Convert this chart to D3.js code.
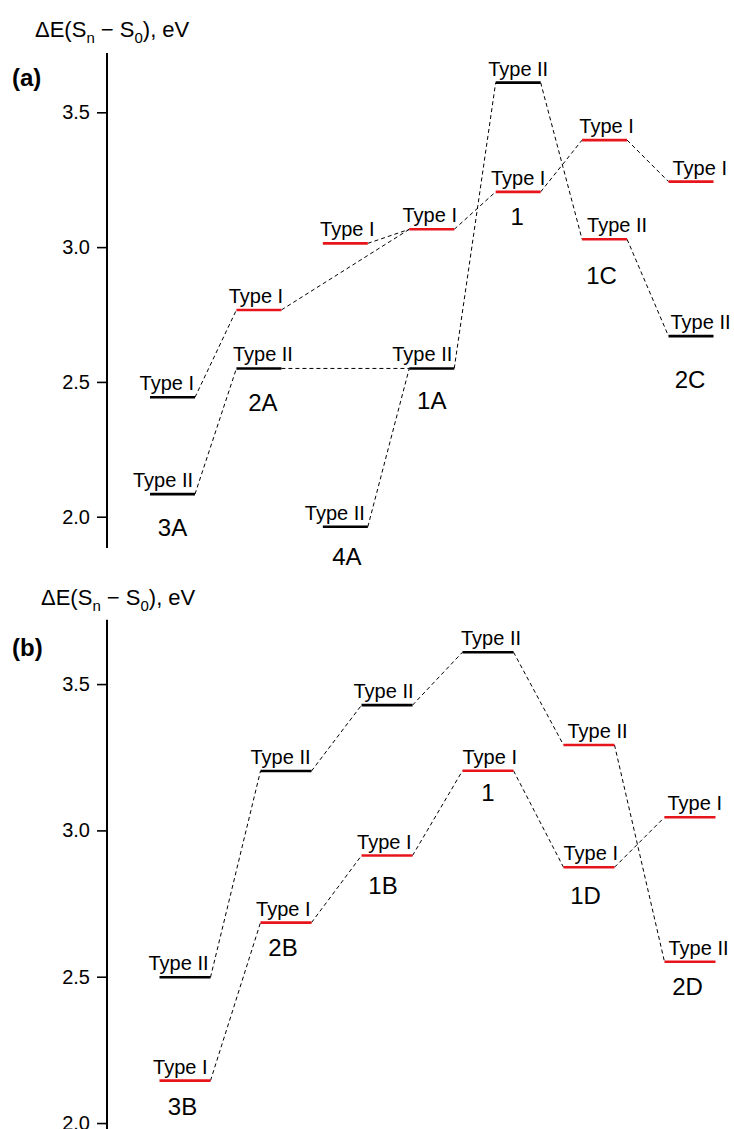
<!DOCTYPE html>
<html>
<head>
<meta charset="utf-8">
<script src="https://cdn.jsdelivr.net/npm/d3@7"></script>
<style>
  body { margin: 0; background: #fff; }
  svg { display: block; font-family: "Liberation Sans", Arial, sans-serif; }
</style>
</head>
<body>
<svg id="chart" width="734" height="1129"></svg>
<script>
// ---- data: panel (a) ----
const columnsA = ['3A', '2A', '4A', '1A', '1', '1C', '2C'];
const typeIA = [2.443, 2.767, 3.014, 3.066, 3.205, 3.397, 3.243];
const typeIIA = [2.084, 2.550, 1.963, 2.550, 3.610, 3.029, 2.670];
// which levels are marked (drawn red)
const markIA = [false, true, true, true, true, true, true];
const markIIA = [false, false, false, false, false, true, false];
const linksA = [
  ['3A', 'I', '2A', 'I'], ['3A', 'II', '2A', 'II'],
  ['2A', 'I', '1A', 'I'], ['4A', 'I', '1A', 'I'],
  ['2A', 'II', '1A', 'II'], ['4A', 'II', '1A', 'II'],
  ['1A', 'I', '1', 'I'], ['1A', 'II', '1', 'II'],
  ['1', 'I', '1C', 'I'], ['1', 'II', '1C', 'II'],
  ['1C', 'I', '2C', 'I'], ['1C', 'II', '2C', 'II']
];

// ---- data: panel (b) ----
const columnsB = ['3B', '2B', '1B', '1', '1D', '2D'];
const typeIB = [2.145, 2.685, 2.914, 3.204, 2.874, 3.045];
const typeIIB = [2.498, 3.203, 3.428, 3.609, 3.292, 2.551];
const markIB = [true, true, true, true, true, true];
const markIIB = [false, false, false, false, true, true];
const linksB = [
  ['3B', 'I', '2B', 'I'], ['3B', 'II', '2B', 'II'],
  ['2B', 'I', '1B', 'I'], ['2B', 'II', '1B', 'II'],
  ['1B', 'I', '1', 'I'], ['1B', 'II', '1', 'II'],
  ['1', 'I', '1D', 'I'], ['1', 'II', '1D', 'II'],
  ['1D', 'I', '2D', 'I'], ['1D', 'II', '2D', 'II']
];

const majorTicks = [2.0, 2.5, 3.0, 3.5];
const minorTicks = [2 + 1 / 6, 2 + 2 / 6, 2.5 + 1 / 6, 2.5 + 2 / 6, 3 + 1 / 6, 3 + 2 / 6, 3.5 + 1 / 6];
const yTitle = ['\u0394E(S', 'n', ' \u2212 S', '0', '), eV'];

// ---- layout (label placement tweaks, px) ----
const layoutA = {
  letter: '(a)', letterY: 86, titleX: 35, titleY: 37,
  yRange: [548, 53], xRange: [172.5, 691], w: 45,
  lblI: [['end', -1], ['middle', -3], ['middle', 2], ['middle', -2], ['middle', 0], ['middle', 2], ['start', 4]],
  lblII: [['end', -2], ['middle', 4], ['end', -3], ['end', -2], ['middle', 0], ['start', 5], ['start', 2]],
  colLbl: [[0, 34], [4, 34], [1.5, 30], [0, 32], [-1, 25], [-3, 36], [-1, 44]]
};
const layoutB = {
  letter: '(b)', letterY: 656, titleX: 41, titleY: 605,
  yRange: [1157, 619.7], xRange: [185, 690], w: 51,
  lblI: [['end', -3], ['end', -1], ['end', -1], ['start', 0], ['start', 0], ['start', 3]],
  lblII: [['end', -2], ['end', -1], ['end', 1], ['middle', 3], ['start', 4], ['start', 4]],
  colLbl: [[-2.5, 26], [-3, 25], [-4, 30], [0, 22], [-3.5, 28], [-2.5, 25]]
};

const svg = d3.select('#chart');
const RED = '#e8141b';

function drawPanel(columns, typeI, typeII, markI, markII, links, L) {
  const g = svg.append('g');
  const y = d3.scaleLinear().domain([1.884, 3.72]).range(L.yRange);
  const x = d3.scalePoint().domain(columns).range(L.xRange);
  const axisX = 107;

  // levels table
  const levels = [];
  columns.forEach((c, i) => {
    levels.push({ col: c, i: i, type: 'I', e: typeI[i], mark: markI[i], lbl: L.lblI[i] });
    levels.push({ col: c, i: i, type: 'II', e: typeII[i], mark: markII[i], lbl: L.lblII[i] });
  });
  const find = (c, t) => levels.find(d => d.col === c && d.type === t);

  // axis
  const ax = g.append('g').attr('transform', `translate(${axisX},0)`);
  ax.call(d3.axisLeft(y).tickValues(minorTicks).tickSize(5).tickFormat(''));
  ax.call(d3.axisLeft(y).tickValues(majorTicks).tickSize(10).tickPadding(7).tickFormat(d3.format('.1f')));
  ax.selectAll('path.domain').attr('d', `M0,${L.yRange[1]}V${L.yRange[0]}`).attr('stroke-width', 2);
  ax.selectAll('.tick line').attr('stroke-width', 1.6);
  ax.selectAll('.tick text').attr('font-size', 20).attr('font-family', '"Liberation Sans", Arial, sans-serif').attr('fill', '#000');

  // axis title
  const t = g.append('text').attr('x', L.titleX).attr('y', L.titleY).attr('font-size', 22).attr('fill', '#000');
  yTitle.forEach((s, k) => {
    const sub = k % 2 === 1;
    t.append('tspan').text(s)
      .attr('font-size', sub ? 15 : 22)
      .attr('dy', sub ? 6 : (k > 0 ? -6 : 0));
  });

  g.append('text').attr('x', 12).attr('y', L.letterY)
    .attr('font-size', 24).attr('font-weight', 'bold').attr('fill', '#000')
    .text(L.letter);

  // dashed connectors
  g.selectAll('line.link').data(links).enter().append('line')
    .attr('class', 'link')
    .attr('x1', d => x(d[0]) + L.w / 2)
    .attr('y1', d => y(find(d[0], d[1]).e))
    .attr('x2', d => x(d[2]) - L.w / 2)
    .attr('y2', d => y(find(d[2], d[3]).e))
    .attr('stroke', '#000').attr('stroke-width', 1)
    .attr('stroke-dasharray', '4,3');

  // level bars
  g.selectAll('line.level').data(levels).enter().append('line')
    .attr('class', 'level')
    .attr('x1', d => x(d.col) - L.w / 2)
    .attr('x2', d => x(d.col) + L.w / 2)
    .attr('y1', d => y(d.e)).attr('y2', d => y(d.e))
    .attr('stroke', d => d.mark ? RED : '#000')
    .attr('stroke-width', 2.6);

  // Type labels
  g.selectAll('text.type').data(levels).enter().append('text')
    .attr('class', 'type')
    .attr('text-anchor', d => d.lbl[0])
    .attr('x', d => {
      const cx = x(d.col);
      const base = d.lbl[0] === 'start' ? cx - L.w / 2 : d.lbl[0] === 'end' ? cx + L.w / 2 : cx;
      return base + d.lbl[1];
    })
    .attr('y', d => y(d.e) - 7)
    .attr('font-size', 20).attr('fill', '#000')
    .text(d => 'Type ' + d.type);

  // compound labels
  g.selectAll('text.col').data(columns).enter().append('text')
    .attr('class', 'col')
    .attr('text-anchor', 'middle')
    .attr('x', (c, i) => x(c) + L.colLbl[i][0])
    .attr('y', (c, i) => y(Math.min(typeI[i], typeII[i])) + L.colLbl[i][1])
    .attr('dy', '0.35em')
    .attr('font-size', 24).attr('fill', '#000')
    .text(c => c);
}

drawPanel(columnsA, typeIA, typeIIA, markIA, markIIA, linksA, layoutA);
drawPanel(columnsB, typeIB, typeIIB, markIB, markIIB, linksB, layoutB);
</script>
</body>
</html>
